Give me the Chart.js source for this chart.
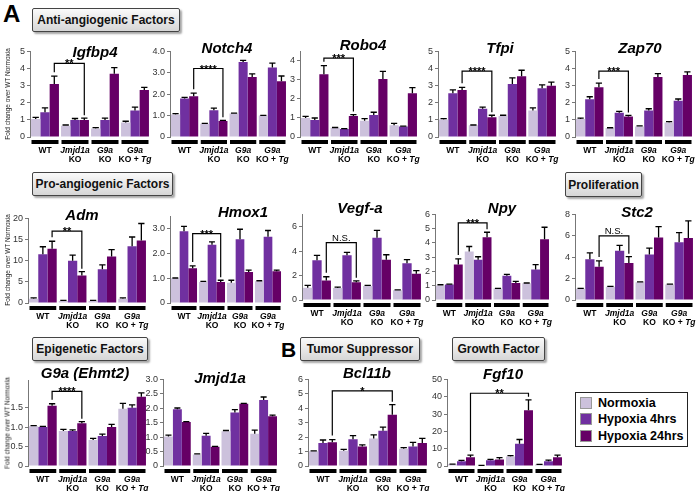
<!DOCTYPE html>
<html>
<head>
<meta charset="utf-8">
<script src="https://cdn.jsdelivr.net/npm/chart.js@4.4.1/dist/chart.umd.min.js"></script>
<style>
  body { margin: 0; background: #fff; width: 696px; height: 491px; position: relative; overflow: hidden; font-family: "Liberation Sans", Arial, sans-serif; }
  canvas { position: absolute; }
  .gene { position: absolute; font: italic bold 15px "Liberation Sans", Arial, sans-serif; line-height: 15px; transform: translateX(-50%); white-space: nowrap; color: #000; }
  .box { position: absolute; box-sizing: border-box; border: 1px solid #444; border-radius: 2px; background: linear-gradient(#fafafa, #d6d6d6); box-shadow: 2px 2px 2px rgba(0,0,0,0.35); font: bold 12px "Liberation Sans", Arial, sans-serif; color: #111; display: flex; align-items: center; justify-content: center; white-space: nowrap; }
  .letter { position: absolute; font: bold 24px "Liberation Sans", Arial, sans-serif; line-height: 24px; }
  .ytitle { position: absolute; font: 6.5px "Liberation Sans", Arial, sans-serif; white-space: nowrap; transform: translate(-50%, -50%) rotate(-90deg); color: #222; }
  .legend { position: absolute; left: 575px; top: 392px; width: 113px; height: 55px; box-sizing: border-box; border: 1.5px solid #222; background: #fff; }
  .legend div { position: absolute; left: 4px; font: bold 12.5px "Liberation Sans", Arial, sans-serif; line-height: 13px; white-space: nowrap; }
  .legend span { display: inline-block; width: 12px; height: 12px; box-sizing: border-box; border: 1px solid #999; vertical-align: -2px; margin-right: 6px; }
</style>
</head>
<body>
<div class="letter" style="left:3px;top:2px">A</div>
<div class="letter" style="left:281px;top:338px;font-size:21px">B</div>
<div class="box" style="left:32px;top:8px;width:148px;height:24px">Anti-angiogenic Factors</div>
<div class="box" style="left:32px;top:172px;width:141px;height:24px">Pro-angiogenic Factors</div>
<div class="box" style="left:565px;top:172px;width:77px;height:25px">Proliferation</div>
<div class="box" style="left:32px;top:337px;width:116px;height:24px">Epigenetic Factors</div>
<div class="box" style="left:300px;top:337px;width:120px;height:24px">Tumor Suppressor</div>
<div class="box" style="left:452px;top:337px;width:93px;height:24px">Growth Factor</div>
<div class="legend">
  <div style="top:4px"><span style="background:#ccc1dc"></span>Normoxia</div>
  <div style="top:20px"><span style="background:#7030a0"></span>Hypoxia 4hrs</div>
  <div style="top:37px"><span style="background:#660066"></span>Hypoxia 24hrs</div>
</div>

<script>
// categories and series
const groups = ['WT', 'Jmjd1a KO', 'G9a KO', 'G9a KO + Tg'];
const seriesLabels = ['Normoxia', 'Hypoxia 4hrs', 'Hypoxia 24hrs'];
const seriesColors = ['#ccc1dc', '#7030a0', '#660066'];
const italicWords = ['Jmjd1a', 'G9a', 'Tg'];

// values per gene: [Normoxia, Hypoxia 4hrs, Hypoxia 24hrs], each over the 4 groups
const igfbp4Values = [[1.05, 0.65, 0.5, 0.85], [1.45, 1.0, 1.0, 1.55], [3.1, 1.0, 3.7, 2.75]];
const igfbp4Errors = [[0.1, 0.05, 0.05, 0.07], [0.25, 0.08, 0.1, 0.2], [0.45, 0.1, 0.35, 0.15]];
const notch4Values = [[1.05, 0.62, 1.1, 1.0], [1.8, 1.25, 3.5, 3.25], [1.9, 0.75, 2.8, 2.6]];
const notch4Errors = [[0.04, 0.02, 0.02, 0.01], [0.05, 0.1, 0.08, 0.2], [0.15, 0.03, 0.15, 0.25]];
const robo4Values = [[1.0, 0.48, 0.85, 0.62], [0.9, 0.42, 1.15, 0.55], [3.3, 1.1, 3.05, 2.3]];
const robo4Errors = [[0.08, 0.02, 0.12, 0.1], [0.1, 0.02, 0.15, 0.02], [0.45, 0.08, 0.4, 0.3]];
const tfpiValues = [[1.02, 0.68, 1.22, 1.55], [2.55, 1.65, 3.1, 2.85], [2.75, 1.15, 3.55, 3.0]];
const tfpiErrors = [[0.05, 0.02, 0.05, 0.15], [0.2, 0.1, 0.35, 0.2], [0.15, 0.12, 0.35, 0.2]];
const zap70Values = [[1.05, 0.52, 0.62, 0.85], [2.2, 1.42, 1.55, 2.12], [2.9, 1.2, 3.5, 3.62]];
const zap70Errors = [[0.05, 0.02, 0.03, 0.05], [0.15, 0.08, 0.1, 0.1], [0.25, 0.06, 0.2, 0.18]];
const admValues = [[1.0, 0.5, 0.5, 1.0], [11.5, 10.0, 8.0, 13.4], [12.8, 6.5, 11.0, 14.8]];
const admErrors = [[0.2, 0.1, 0.1, 0.2], [1.8, 1.3, 1.0, 2.2], [1.8, 0.9, 1.6, 4.0]];
const hmox1Values = [[1.0, 0.85, 0.82, 0.88], [2.9, 2.35, 2.58, 2.68], [1.4, 0.85, 1.25, 1.28]];
const hmox1Errors = [[0.01, 0.02, 0.1, 0.02], [0.2, 0.12, 0.4, 0.25], [0.1, 0.07, 0.08, 0.05]];
const vegfaValues = [[1.0, 0.98, 1.15, 0.8], [3.25, 3.65, 5.1, 3.0], [1.6, 1.45, 3.3, 2.15]];
const vegfaErrors = [[0.2, 0.08, 0.05, 0.03], [0.4, 0.25, 0.6, 0.3], [0.3, 0.12, 0.4, 0.25]];
const npyValues = [[1.02, 3.4, 0.8, 1.17], [1.08, 2.83, 1.7, 2.13], [2.48, 4.4, 1.2, 4.25]];
const npyErrors = [[0.05, 0.35, 0.02, 0.02], [0.03, 0.2, 0.1, 0.35], [0.4, 0.35, 0.1, 0.85]];
const stc2Values = [[1.05, 1.25, 1.65, 1.45], [3.8, 4.6, 4.25, 5.4], [3.1, 3.45, 5.85, 5.8]];
const stc2Errors = [[0.03, 0.03, 0.05, 0.03], [0.6, 0.5, 0.6, 0.9], [0.55, 0.6, 1.0, 1.6]];
const g9aValues = [[1.02, 0.9, 0.67, 1.47], [1.0, 0.9, 0.77, 1.5], [1.55, 1.1, 1.0, 1.78]];
const g9aErrors = [[0.02, 0.04, 0.04, 0.14], [0.02, 0.03, 0.05, 0.07], [0.05, 0.04, 0.07, 0.1]];
const jmjd1aValues = [[1.02, 0.4, 1.2, 1.12], [1.97, 1.05, 1.85, 2.29], [1.52, 0.67, 2.16, 1.72]];
const jmjd1aErrors = [[0.05, 0.02, 0.03, 0.12], [0.04, 0.08, 0.1, 0.1], [0.02, 0.01, 0.01, 0.04]];
const bcl11bValues = [[1.02, 1.05, 1.9, 1.2], [1.6, 1.85, 2.45, 1.35], [1.65, 1.35, 3.55, 1.6]];
const bcl11bErrors = [[0.03, 0.1, 0.25, 0.08], [0.2, 0.25, 0.25, 0.28], [0.18, 0.12, 0.7, 0.32]];
const fgf10Values = [[1.0, 0.3, 5.5, 0.8], [2.8, 3.3, 12.8, 2.8], [5.0, 3.8, 32.2, 5.0]];
const fgf10Errors = [[0.1, 0.1, 0.5, 0.1], [0.5, 0.5, 2.5, 0.6], [1.3, 1.0, 6.0, 1.3]];

// significance: [from group, to group, bracket level, label] (Hypoxia 24hrs bars)
const igfbp4Sig = [0, 1, 4.3, '**'];
const notch4Sig = [0, 1, 3.2, '****'];
const robo4Sig = [0, 1, 4.15, '***'];
const tfpiSig = [0, 1, 3.85, '****'];
const zap70Sig = [0, 1, 3.85, '***'];
const admSig = [0, 1, 17, '**'];
const hmox1Sig = [0, 1, 2.8, '***'];
const vegfaSig = [0, 1, 4.7, 'N.S.'];
const npySig = [0, 1, 5.4, '***'];
const stc2Sig = [0, 1, 6.0, 'N.S.'];
const g9aSig = [0, 1, 1.92, '****'];
const bcl11bSig = [0, 2, 5.2, '*'];
const fgf10Sig = [0, 2, 42, '**'];

const panels = [
  { title: 'Igfbp4', values: igfbp4Values, errors: igfbp4Errors, sig: igfbp4Sig, max: 5, step: 1, x: 30, right: 150, top: 50, zero: 137, tx: 95, tb: 57, ytitle: true },
  { title: 'Notch4', values: notch4Values, errors: notch4Errors, sig: notch4Sig, max: 4, step: 0.5, x: 170, right: 287, top: 50, zero: 137, tx: 227, tb: 53 },
  { title: 'Robo4', values: robo4Values, errors: robo4Errors, sig: robo4Sig, max: 4.5, step: 1, x: 300, right: 418, top: 50, zero: 137, tx: 363, tb: 50 },
  { title: 'Tfpi', values: tfpiValues, errors: tfpiErrors, sig: tfpiSig, max: 5, step: 1, x: 438, right: 557, top: 50, zero: 137, tx: 500, tb: 53 },
  { title: 'Zap70', values: zap70Values, errors: zap70Errors, sig: zap70Sig, max: 5, step: 1, x: 575, right: 693, top: 50, zero: 137, tx: 640, tb: 53 },
  { title: 'Adm', values: admValues, errors: admErrors, sig: admSig, max: 20, step: 5, x: 28, right: 147, top: 217, zero: 303, tx: 82, tb: 220, ytitle: true },
  { title: 'Hmox1', values: hmox1Values, errors: hmox1Errors, sig: hmox1Sig, max: 3.5, step: 0.5, x: 170, right: 282, top: 215, zero: 303, tx: 243, tb: 217 },
  { title: 'Vegf-a', values: vegfaValues, errors: vegfaErrors, sig: vegfaSig, max: 7, step: 1, x: 302, right: 422, top: 213, zero: 300, tx: 360, tb: 213 },
  { title: 'Npy', values: npyValues, errors: npyErrors, sig: npySig, max: 6, step: 1, x: 435, right: 550, top: 213, zero: 300, tx: 502, tb: 213 },
  { title: 'Stc2', values: stc2Values, errors: stc2Errors, sig: stc2Sig, max: 8, step: 1, x: 575, right: 694, top: 213, zero: 300, tx: 637, tb: 217 },
  { title: 'G9a (Ehmt2)', values: g9aValues, errors: g9aErrors, sig: g9aSig, max: 2.2, step: 0.5, x: 28, right: 147, top: 379, zero: 466, tx: 85, tb: 378, ytitle: true },
  { title: 'Jmjd1a', values: jmjd1aValues, errors: jmjd1aErrors, sig: null, max: 3, step: 0.5, x: 163, right: 278, top: 378, zero: 466, tx: 220, tb: 383 },
  { title: 'Bcl11b', values: bcl11bValues, errors: bcl11bErrors, sig: bcl11bSig, max: 6, step: 1, x: 308, right: 428, top: 378, zero: 466, tx: 367, tb: 378 },
  { title: 'Fgf10', values: fgf10Values, errors: fgf10Errors, sig: fgf10Sig, max: 50, step: 10, x: 447, right: 563, top: 378, zero: 466, tx: 503, tb: 379 }
];

const YW = 24, PT = 6, PB = 30, PR = 2;

function drawRich(ctx, text, cx, baseline) {
  const parts = text.split(' ').map((w, k) => ({ t: (k ? ' ' : '') + w, it: italicWords.includes(w) }));
  const fontFor = p => (p.it ? 'italic ' : '') + 'bold 8.5px "Liberation Sans", Arial, sans-serif';
  let total = 0;
  parts.forEach(p => { ctx.font = fontFor(p); p.w = ctx.measureText(p.t).width; total += p.w; });
  let x = cx - total / 2;
  ctx.textAlign = 'left';
  ctx.textBaseline = 'alphabetic';
  parts.forEach(p => { ctx.font = fontFor(p); ctx.fillText(p.t, x, baseline); x += p.w; });
}

const decorPlugin = {
  id: 'decor',
  afterDatasetsDraw(chart) {
    const ctx = chart.ctx, xs = chart.scales.x, ys = chart.scales.y;
    const sig = chart.options.plugins.decor.sig;
    ctx.save();
    // error bars
    ctx.strokeStyle = '#000';
    ctx.lineWidth = 1.3;
    chart.data.datasets.forEach((ds, di) => {
      chart.getDatasetMeta(di).data.forEach((bar, i) => {
        const top = ys.getPixelForValue(ds.data[i] + ds.errors[i]);
        const w = bar.width * 0.34;
        ctx.beginPath();
        ctx.moveTo(bar.x, bar.y);
        ctx.lineTo(bar.x, top);
        ctx.moveTo(bar.x - w, top);
        ctx.lineTo(bar.x + w, top);
        ctx.stroke();
      });
    });
    // group strips and labels
    const cw = (chart.chartArea.right - chart.chartArea.left) / chart.data.labels.length;
    ctx.fillStyle = '#000';
    chart.data.labels.forEach((lab, i) => {
      const cx = xs.getPixelForValue(i);
      ctx.fillRect(cx - cw / 2 + 1.5, ys.bottom + 3, cw - 3, 4);
      const words = lab.split(' ');
      drawRich(ctx, words[0], cx, ys.bottom + 15.5);
      if (words.length > 1) drawRich(ctx, words.slice(1).join(' '), cx, ys.bottom + 24.5);
    });
    // significance bracket
    if (sig) {
      const meta = chart.getDatasetMeta(2);
      const ds = chart.data.datasets[2];
      const a = meta.data[sig[0]], b = meta.data[sig[1]];
      const yl = ys.getPixelForValue(sig[2]);
      const ya = ys.getPixelForValue(ds.data[sig[0]] + ds.errors[sig[0]]) - 4;
      const yb = ys.getPixelForValue(ds.data[sig[1]] + ds.errors[sig[1]]) - 3;
      ctx.lineWidth = 1.2;
      ctx.beginPath();
      ctx.moveTo(a.x, ya);
      ctx.lineTo(a.x, yl);
      ctx.lineTo(b.x, yl);
      ctx.lineTo(b.x, yb);
      ctx.stroke();
      ctx.textAlign = 'center';
      ctx.textBaseline = 'alphabetic';
      if (sig[3] === 'N.S.') {
        ctx.font = '9.5px "Liberation Sans", Arial, sans-serif';
        ctx.fillText(sig[3], (a.x + b.x) / 2, yl - 2);
      } else {
        ctx.font = 'bold 11px "Liberation Sans", Arial, sans-serif';
        ctx.fillText(sig[3], (a.x + b.x) / 2, yl + 4);
      }
    }
    ctx.restore();
  }
};

panels.forEach(p => {
  const cv = document.createElement('canvas');
  const w = p.right - p.x + YW + PR;
  const h = p.zero - p.top + PT + PB;
  cv.width = w;
  cv.height = h;
  cv.style.left = (p.x - YW) + 'px';
  cv.style.top = (p.top - PT) + 'px';
  document.body.appendChild(cv);

  const t = document.createElement('div');
  t.className = 'gene';
  t.textContent = p.title;
  t.style.left = p.tx + 'px';
  t.style.top = (p.tb - 12.7) + 'px';
  document.body.appendChild(t);

  if (p.ytitle) {
    const yt = document.createElement('div');
    yt.className = 'ytitle';
    yt.textContent = 'Fold change over WT Normoxia';
    yt.style.left = '7px';
    yt.style.top = ((p.top + p.zero) / 2) + 'px';
    document.body.appendChild(yt);
  }

  new Chart(cv.getContext('2d'), {
    type: 'bar',
    data: {
      labels: groups,
      datasets: seriesLabels.map((s, i) => ({
        label: s,
        data: p.values[i],
        errors: p.errors[i],
        backgroundColor: seriesColors[i],
        categoryPercentage: 0.93,
        barPercentage: 1.0
      }))
    },
    options: {
      responsive: false,
      animation: false,
      layout: { padding: { top: PT, right: PR, bottom: PB, left: 0 } },
      plugins: {
        legend: { display: false },
        tooltip: { enabled: false },
        decor: { sig: p.sig }
      },
      scales: {
        x: { display: false },
        y: {
          min: 0,
          max: p.max,
          ticks: {
            stepSize: p.step,
            color: '#333',
            padding: 2,
            font: { family: '"Liberation Sans", Arial, sans-serif', size: 9 }
          },
          grid: { drawOnChartArea: false, tickLength: 3, color: '#777' },
          border: { color: '#777' },
          afterBuildTicks: s => {
            s.ticks = s.ticks.filter(tk => Math.abs(tk.value / p.step - Math.round(tk.value / p.step)) < 1e-6);
          },
          afterFit: s => { s.width = YW; }
        }
      }
    },
    plugins: [decorPlugin]
  });
});
</script>
</body>
</html>
